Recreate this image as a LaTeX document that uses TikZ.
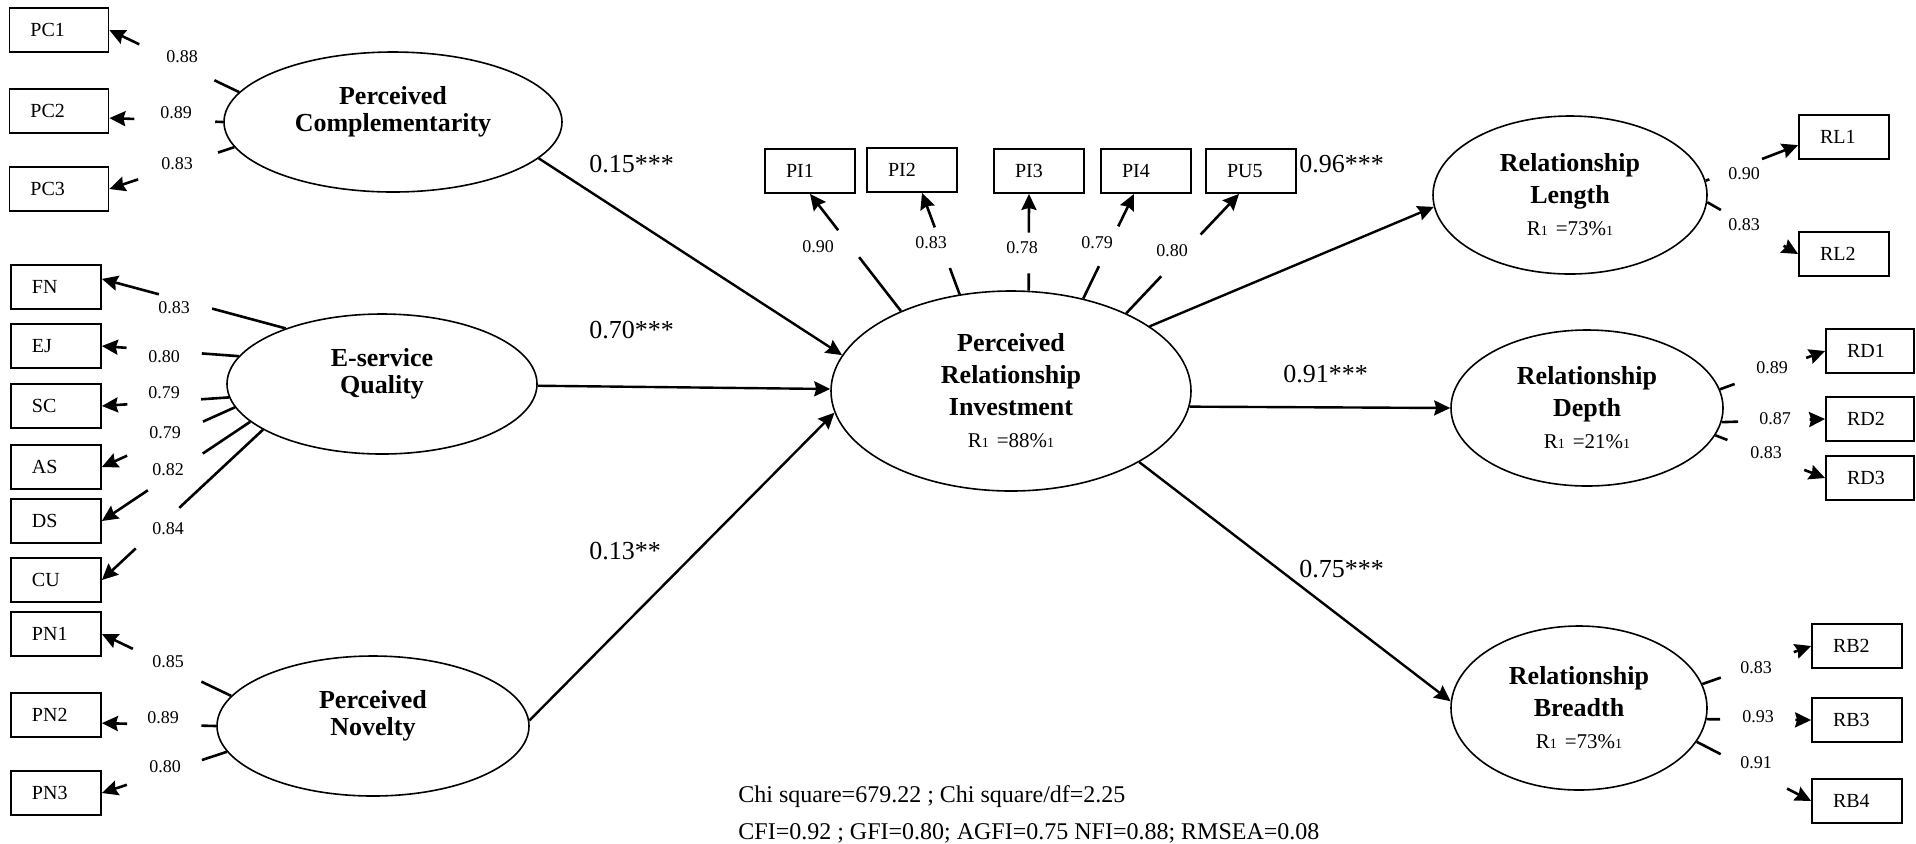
\documentclass[tikz,border=0pt]{standalone}
\usepackage{fontspec}
\setmainfont{Liberation Serif}
\usetikzlibrary{arrows.meta,shapes.geometric,calc}
\newcommand{\rsq}[1]{{\mdseries\fontsize{10.5}{16}\selectfont R{\fontsize{7}{16}\selectfont 1}\hspace{4pt}=#1\%{\fontsize{7}{16}\selectfont 1}}}
\newcommand{\loadline}[4]{%
  \draw[loadln] (#1) -- ($(#1)!#3!(#2)$);
  \draw[loadln,->] ($(#1)!#4!(#2)$) -- (#2);}

\begin{document}
\begin{tikzpicture}[
    x=0.5pt, y=-0.5pt,
    indicator/.style={rectangle, draw=black, line width=0.9pt, minimum height=22pt,
                      text width=24pt, inner xsep=10.5pt, align=left,
                      font=\fontsize{10}{12}\selectfont},
    latent/.style={ellipse, draw=black, line width=0.8pt, inner sep=0pt,
                   align=center, font=\fontsize{13}{13.3}\selectfont\bfseries},
    outcome/.style={latent, font=\fontsize{13}{16}\selectfont\bfseries},
    coef/.style={anchor=west, inner sep=0pt, font=\fontsize{13}{15}\selectfont},
    loadlbl/.style={inner sep=0pt, font=\fontsize{9}{11}\selectfont},
    fitnote/.style={anchor=west, inner sep=0pt, align=left,
                    font=\fontsize{12}{18.5}\selectfont},
    effect/.style={line width=1.2pt, ->},
    loadln/.style={line width=1.3pt},
    >={Stealth[length=8pt,width=7.5pt,inset=1pt]},
]
    \useasboundingbox (0,0) rectangle (1916,843);

    % Exogenous constructs
    \node[latent, minimum width=169pt, minimum height=70pt] (pc) at (393,122) {Perceived\\Complementarity\\\mbox{}};
    \node[latent, minimum width=155pt, minimum height=70pt] (esq) at (382,384) {E-service\\Quality\\\mbox{}};
    \node[latent, minimum width=156pt, minimum height=70pt] (pn) at (373,726) {Perceived\\Novelty\\\mbox{}};

    % Mediator and outcomes
    \node[outcome, minimum width=180pt, minimum height=100pt] (pri) at (1011,391) {Perceived\\Relationship\\Investment\\\rsq{88}};
    \node[outcome, minimum width=137pt, minimum height=79pt] (rl) at (1570,195) {Relationship\\Length\\\rsq{73}};
    \node[outcome, minimum width=136pt, minimum height=78pt] (rd) at (1587,408) {Relationship\\Depth\\\rsq{21}};
    \node[outcome, minimum width=128pt, minimum height=82pt] (rb) at (1579,708) {Relationship\\Breadth\\\rsq{73}};

    % Indicators
    \node[indicator, text width=28.5pt] (pc1) at (59,30) {PC1};
    \node[indicator, text width=28.5pt] (pc2) at (59,111) {PC2};
    \node[indicator, text width=28.5pt] (pc3) at (59,189) {PC3};
    \node[indicator] (fn) at (56,287) {FN};
    \node[indicator] (ej) at (56,346) {EJ};
    \node[indicator] (sc) at (56,406) {SC};
    \node[indicator] (as) at (56,467) {AS};
    \node[indicator] (ds) at (56,521) {DS};
    \node[indicator] (cu) at (56,580) {CU};
    \node[indicator] (pn1) at (56,634) {PN1};
    \node[indicator] (pn2) at (56,715) {PN2};
    \node[indicator] (pn3) at (56,793) {PN3};
    \node[indicator] (pi1) at (810,171) {PI1};
    \node[indicator] (pi2) at (912,170) {PI2};
    \node[indicator] (pi3) at (1039,171) {PI3};
    \node[indicator] (pi4) at (1146,171) {PI4};
    \node[indicator] (pu5) at (1251,171) {PU5};
    \node[indicator] (rl1) at (1844,137) {RL1};
    \node[indicator] (rl2) at (1844,254) {RL2};
    \node[indicator, text width=23pt] (rd1) at (1870,351) {RD1};
    \node[indicator, text width=23pt] (rd2) at (1870,419) {RD2};
    \node[indicator, text width=23pt] (rd3) at (1870,478) {RD3};
    \node[indicator] (rb2) at (1857,646) {RB2};
    \node[indicator] (rb3) at (1857,720) {RB3};
    \node[indicator] (rb4) at (1857,801) {RB4};

    \coordinate (pi2t) at ([xshift=5pt]pi2.south);
    \coordinate (pi3t) at ([xshift=-5pt]pi3.south);
    \coordinate (pi4t) at ([xshift=-6pt]pi4.south);
    \coordinate (pu5t) at ([xshift=-6pt]pu5.south);

    % Structural paths
    \draw[effect] (pc.-14) -- (pri.168);
    \draw[effect] (esq) -- (pri);
    \draw[effect] (pn.2) -- (pri.187);
    \draw[effect] (pri.25) -- (rl.185);
    \draw[effect] (pri.-5) -- (rd.west);
    \draw[effect] (pri.-29) -- (rb.177);

    \node[coef] (c1) at (589,164) {0.15***};
    \node[coef] (c2) at (589,330) {0.70***};
    \node[coef] (c3) at (589,551) {0.13**};
    \node[coef] (c4) at (1299,164) {0.96***};
    \node[coef] (c5) at (1283,374) {0.91***};
    \node[coef] (c6) at (1299,569) {0.75***};

    % Loadings
    \loadline{pc.169}{pc1.east}{.19}{.77}
    \loadline{pc.180}{pc2.-8}{.07}{.78}
    \loadline{pc.189}{pc3.east}{.13}{.77}
    \loadline{esq.150}{fn.10}{.40}{.69}
    \loadline{esq.169}{ej.east}{.27}{.82}
    \loadline{esq.185}{sc.east}{.22}{.80}
    \loadline{esq.189}{as.east}{.24}{.81}
    \loadline{esq.196}{ds.east}{.32}{.69}
    \loadline{esq.201}{cu.east}{.52}{.79}
    \loadline{pn.168}{pn1.east}{.23}{.76}
    \loadline{pn.180}{pn2.-10}{.13}{.78}
    \loadline{pn.190}{pn3.east}{.20}{.80}
    \loadline{pri.144}{pi1.south}{.46}{.69}
    \loadline{pri.118}{pi2t}{.26}{.66}
    \loadline{pri.80}{pi3t}{.18}{.60}
    \loadline{pri.52}{pi4t}{.31}{.69}
    \loadline{pri.34}{pu5t}{.31}{.66}
    \loadline{rl.6}{rl1.190}{.04}{.61}
    \loadline{rl.-3}{rl2.west}{.15}{.84}
    \loadline{rd.8}{rd1.west}{.14}{.82}
    \loadline{rd.-6}{rd2.west}{.16}{.85}
    \loadline{rd.-12}{rd3.west}{.11}{.81}
    \loadline{rb.11}{rb2.west}{.17}{.84}
    \loadline{rb.-5}{rb3.west}{.13}{.85}
    \loadline{rb.-16}{rb4.west}{.21}{.79}

    \node[loadlbl] (lpc1) at (182,57) {0.88};
    \node[loadlbl] (lpc2) at (176,113) {0.89};
    \node[loadlbl] (lpc3) at (177,164) {0.83};
    \node[loadlbl] (lfn) at (174,308) {0.83};
    \node[loadlbl] (lej) at (164,357) {0.80};
    \node[loadlbl] (lsc) at (164,393) {0.79};
    \node[loadlbl] (las) at (165,433) {0.79};
    \node[loadlbl] (lds) at (168,470) {0.82};
    \node[loadlbl] (lcu) at (168,529) {0.84};
    \node[loadlbl] (lpn1) at (168,662) {0.85};
    \node[loadlbl] (lpn2) at (163,718) {0.89};
    \node[loadlbl] (lpn3) at (165,767) {0.80};
    \node[loadlbl] (lpi1) at (818,247) {0.90};
    \node[loadlbl] (lpi2) at (931,243) {0.83};
    \node[loadlbl] (lpi3) at (1022,248) {0.78};
    \node[loadlbl] (lpi4) at (1097,243) {0.79};
    \node[loadlbl] (lpu5) at (1172,251) {0.80};
    \node[loadlbl] (lrl1) at (1744,174) {0.90};
    \node[loadlbl] (lrl2) at (1744,225) {0.83};
    \node[loadlbl] (lrd1) at (1772,368) {0.89};
    \node[loadlbl] (lrd2) at (1775,419) {0.87};
    \node[loadlbl] (lrd3) at (1766,453) {0.83};
    \node[loadlbl] (lrb2) at (1756,668) {0.83};
    \node[loadlbl] (lrb3) at (1758,717) {0.93};
    \node[loadlbl] (lrb4) at (1756,763) {0.91};

    % Fit indices
    \node[fitnote] (fit) at (738,814) {Chi square=679.22 ; Chi square/df=2.25\\CFI=0.92 ; GFI=0.80; AGFI=0.75 NFI=0.88; RMSEA=0.08};
\end{tikzpicture}
\end{document}
